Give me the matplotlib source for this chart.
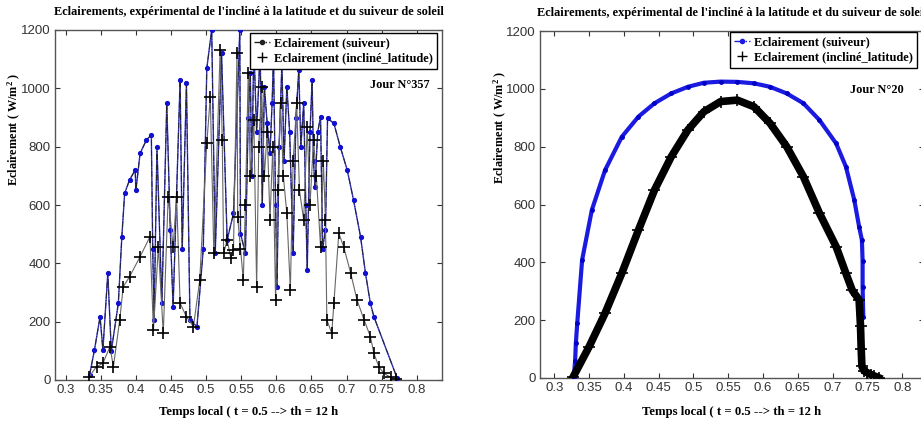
import matplotlib.pyplot as plt
from matplotlib.lines import Line2D

# ---- Jour 357 (left) ----
t357_suiv = [0.334, 0.341, 0.349, 0.353, 0.360, 0.365, 0.375, 0.380, 0.384, 0.391,
             0.399, 0.400, 0.406, 0.415, 0.422, 0.424, 0.426, 0.430, 0.437, 0.444,
             0.449, 0.453, 0.463, 0.466, 0.472, 0.477, 0.487, 0.496, 0.501, 0.508,
             0.513, 0.522, 0.530, 0.539, 0.548, 0.549, 0.556, 0.560, 0.563, 0.565,
             0.568, 0.572, 0.577, 0.580, 0.583, 0.587, 0.591, 0.594, 0.596, 0.599,
             0.601, 0.604, 0.608, 0.611, 0.615, 0.619, 0.624, 0.628, 0.632, 0.635,
             0.639, 0.642, 0.644, 0.648, 0.651, 0.653, 0.655, 0.659, 0.663, 0.666,
             0.670, 0.673, 0.682, 0.691, 0.701, 0.710, 0.720, 0.727, 0.734, 0.739,
             0.772]
E357_suiv = [17, 103, 217, 103, 366, 100, 263, 491, 640, 686,
             720, 650, 777, 823, 840, 450, 206, 800, 263, 949,
             515, 251, 1029, 450, 1017, 206, 183, 450, 1069, 1200,
             434, 1120, 480, 571, 1200, 502, 434, 900, 1051, 700,
             1143, 850, 1131, 600, 1006, 880, 777, 950, 1108, 600,
             320, 800, 1086, 750, 1006, 850, 434, 900, 1063, 800,
             949, 600, 377, 850, 1029, 750, 663, 850, 903, 450,
             515, 897, 880, 800, 720, 617, 491, 366, 263, 217,
             7]

t357_incl = [0.333, 0.344, 0.353, 0.363, 0.368, 0.377, 0.382, 0.391, 0.406, 0.420,
             0.425, 0.432, 0.439, 0.446, 0.453, 0.458, 0.463, 0.472, 0.482, 0.491,
             0.501, 0.506, 0.511, 0.520, 0.523, 0.525, 0.530, 0.535, 0.539, 0.544,
             0.545, 0.549, 0.553, 0.556, 0.560, 0.563, 0.568, 0.572, 0.575, 0.579,
             0.583, 0.587, 0.591, 0.595, 0.599, 0.602, 0.606, 0.610, 0.615, 0.620,
             0.624, 0.629, 0.633, 0.639, 0.644, 0.648, 0.653, 0.657, 0.663, 0.667,
             0.670, 0.672, 0.679, 0.682, 0.689, 0.696, 0.706, 0.715, 0.725, 0.734,
             0.739, 0.746, 0.753, 0.763, 0.770]
E357_incl = [10, 46, 57, 114, 46, 206, 320, 354, 423, 491,
             171, 457, 160, 629, 457, 629, 263, 217, 183, 343,
             811, 971, 434, 1131, 823, 434, 480, 420, 446, 1120,
             560, 450, 343, 600, 1051, 700, 891, 320, 800, 1006,
             700, 850, 549, 800, 274, 650, 949, 700, 571, 309,
             750, 949, 650, 549, 869, 600, 823, 700, 457, 750,
             549, 206, 160, 263, 503, 457, 366, 274, 206, 149,
             91, 46, 23, 9, 3]

# ---- Jour 20 (right) ----
t20_suiv = [0.328, 0.330, 0.331, 0.333, 0.340, 0.354, 0.373, 0.397, 0.421, 0.444,
            0.468, 0.492, 0.515, 0.539, 0.563, 0.587, 0.610, 0.634, 0.658, 0.681,
            0.705, 0.719, 0.731, 0.738, 0.742, 0.743, 0.743, 0.744]
E20_suiv = [3, 60, 120, 189, 408, 581, 719, 834, 904, 950,
            984, 1007, 1021, 1025, 1024, 1019, 1007, 984, 950, 892,
            811, 731, 616, 523, 477, 405, 315, 211]

t20_incl = [0.327, 0.350, 0.373, 0.397, 0.421, 0.444, 0.468, 0.492, 0.515, 0.539,
            0.563, 0.587, 0.610, 0.634, 0.658, 0.681, 0.705, 0.719, 0.728, 0.738,
            0.740, 0.741, 0.742, 0.745, 0.750, 0.755, 0.760, 0.766]
E20_incl = [3, 108, 224, 362, 512, 650, 765, 858, 921, 956,
            961, 938, 881, 800, 696, 570, 454, 362, 304, 270,
            180, 100, 40, 25, 18, 12, 7, 1]

yticks = [0, 200, 400, 600, 800, 1000, 1200]
xticks = [0.3, 0.35, 0.4, 0.45, 0.5, 0.55, 0.6, 0.65, 0.7, 0.75, 0.8]
xticklabels = ['0.3', '0.35', '0.4', '0.45', '0.5', '0.55', '0.6', '0.65', '0.7', '0.75', '0.8']

title = "Eclairements, expérimental de l'incliné à la latitude et du suiveur de soleil"
xlabel = 'Temps local ( t = 0.5 --> th = 12 h'
ylabel = 'Eclairement ( W/m$\\mathbf{^2}$ )'
lab_suiv = 'Eclairement (suiveur)'
lab_incl = 'Eclairement (incliné_latitude)'

serif = 'Liberation Serif'
tickfont = ['Liberation Sans', 'DejaVu Sans']
plt.rcParams['mathtext.fontset'] = 'custom'
plt.rcParams['mathtext.bf'] = 'Liberation Serif:bold'
plt.rcParams['mathtext.rm'] = 'Liberation Serif:bold'

fig = plt.figure(figsize=(9.21, 4.21), dpi=100)
ax1 = fig.add_axes([55 / 921, 1 - 380 / 421, 387 / 921, 350 / 421])
# the right panel runs a little past the figure edge, as in the original screenshot
ax2 = fig.add_axes([540 / 921, 1 - 378 / 421, 383.5 / 921, 347 / 421])


def style_axes(ax, xlim, lab_y, lab_x, xl_y):
    ax.set_xlim(*xlim)
    ax.set_ylim(0, 1200)
    ax.set_xticks(xticks)
    ax.set_xticklabels(xticklabels)
    ax.set_yticks(yticks)
    ax.tick_params(direction='in', length=3.5, width=0.8, top=True, right=True,
                   labelsize=9.5, pad=3, colors='#333333')
    for lbl in ax.get_xticklabels() + ax.get_yticklabels():
        lbl.set_family(tickfont)
        lbl.set_color('#333333')
    for sp in ax.spines.values():
        sp.set_color('#555555')
        sp.set_linewidth(1.0)
    ax.set_title(title, family=serif, fontweight='bold', fontsize=8.9, y=1.018)
    ax.set_xlabel(xlabel, family=serif, fontweight='bold', fontsize=9.2)
    ax.xaxis.set_label_coords(0.5, xl_y)
    ax.set_ylabel(ylabel, family=serif, fontweight='bold', fontsize=8.8)
    ax.yaxis.set_label_coords(lab_x, lab_y)


def add_legend(ax, col, anchor):
    h = [Line2D([], [], color=col, ls='-.', lw=1, marker='.', ms=6),
         Line2D([], [], color='k', ls='none', marker='+', ms=7)]
    leg = ax.legend(h, [lab_suiv, lab_incl], loc='upper right', bbox_to_anchor=anchor,
                    prop={'family': serif, 'weight': 'bold', 'size': 9}, fancybox=False,
                    edgecolor='k', framealpha=1, borderpad=0.35, labelspacing=0.25,
                    handlelength=1.3, handletextpad=0.3, borderaxespad=0)
    leg.get_frame().set_linewidth(1.0)


# left panel
ax1.plot(t357_suiv, E357_suiv, ls='-', color='#3a3ad8', lw=1.0, zorder=2)
ax1.plot(t357_suiv, E357_suiv, ls='-.', color='#222222', lw=0.7, zorder=3)
ax1.plot(t357_suiv, E357_suiv, ls='none', marker='.', color='#1010d0', ms=5.5, zorder=3)
ax1.plot(t357_incl, E357_incl, ls='-', color='#666666', lw=0.8, zorder=3)
ax1.plot(t357_incl, E357_incl, ls='none', marker='+', color='k', ms=8, mew=1.2, zorder=4)
style_axes(ax1, (0.2848, 0.836), 0.715, -0.083, -0.075)
add_legend(ax1, '#222222', (0.988, 0.992))
ax1.text(0.969, 0.843, 'Jour N°357', transform=ax1.transAxes, ha='right', va='center',
         family=serif, fontweight='bold', fontsize=8.8)

# right panel
ax2.plot(t20_suiv, E20_suiv, ls='-', color='#1a1ae0', lw=3.0, zorder=2)
ax2.plot(t20_suiv, E20_suiv, ls='none', marker='.', color='#0000c8', ms=5, zorder=3)
ax2.plot(t20_incl, E20_incl, ls='-', color='k', lw=5.5, zorder=4)
ax2.plot(t20_incl, E20_incl, ls='none', marker='+', color='k', ms=8, mew=1.2, zorder=5)
style_axes(ax2, (0.2795, 0.8305), 0.723, -0.081, -0.082)
add_legend(ax2, '#1a1ae0', (0.984, 0.997))
ax2.text(0.948, 0.83, 'Jour N°20', transform=ax2.transAxes, ha='right', va='center',
         family=serif, fontweight='bold', fontsize=8.8)

fig.savefig('out.png', dpi=100)
